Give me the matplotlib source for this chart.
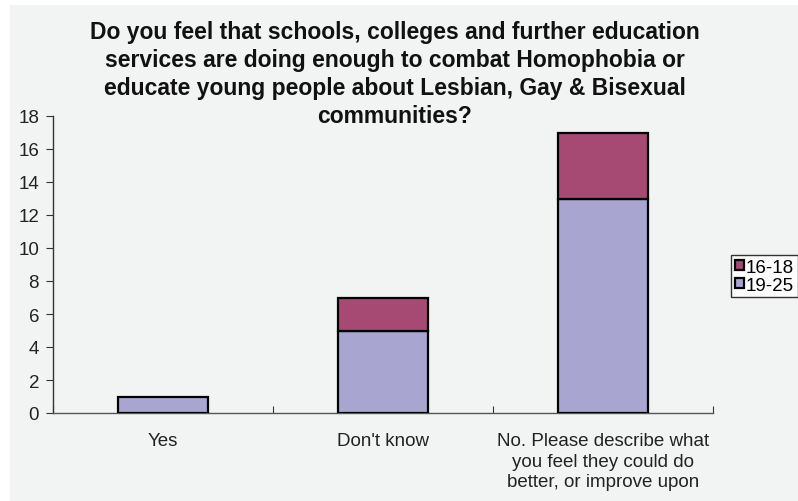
import matplotlib
matplotlib.use("Agg")
import matplotlib.pyplot as plt
from matplotlib.patches import Rectangle

categories = ["Yes", "Don't know",
              "No. Please describe what\nyou feel they could do\nbetter, or improve upon"]
age_19_25 = [1, 5, 13]
age_16_18 = [0, 2, 4]
series_labels = ["16-18", "19-25"]
y_ticks = [0, 2, 4, 6, 8, 10, 12, 14, 16, 18]
title = ("Do you feel that schools, colleges and further education\n"
         "services are doing enough to combat Homophobia or\n"
         "educate young people about Lesbian, Gay & Bisexual\n"
         "communities?")

plt.rcParams["font.family"] = ["Liberation Sans", "DejaVu Sans"]

W, H = 798, 502
bg = "#f2f4f3"
col_16_18 = "#a64a73"
col_19_25 = "#a8a5d0"

fig = plt.figure(figsize=(W / 100, H / 100), dpi=100, facecolor="white")
fig.patches.append(Rectangle((10 / W, 0), 1 - 10 / W, 1 - 6 / H,
                             transform=fig.transFigure, facecolor=bg,
                             edgecolor="none", zorder=-10))

left, right, top, bottom = 53, 713, 117, 414
ax = fig.add_axes([left / W, 1 - bottom / H, (right - left) / W, (bottom - top) / H])
ax.set_facecolor(bg)
ax.patch.set_alpha(0)

x = list(range(len(categories)))
bw = 0.405
ax.bar(x, age_19_25, width=bw, color=col_19_25, edgecolor="black",
       linewidth=1.6, label="19-25", zorder=3)
ax.bar([xi for xi, v in zip(x, age_16_18) if v > 0],
       [v for v in age_16_18 if v > 0], width=bw,
       bottom=[b for b, v in zip(age_19_25, age_16_18) if v > 0],
       color=col_16_18, edgecolor="black", linewidth=1.6, label="16-18", zorder=3)

ax.set_xlim(-0.5, len(categories) - 0.5)
ax.set_ylim(0, 18)
ax.set_yticks(y_ticks)
ax.set_yticklabels([str(t) for t in y_ticks], fontsize=13.5, color="#222222")
ax.set_xticks([i + 0.5 for i in range(-1, len(categories))], minor=False)
ax.set_xticklabels([])
ax.set_xticks(x, minor=True)
ax.set_xticklabels(categories, minor=True, fontsize=13.5, color="#222222",
                   linespacing=1.27)
ax.tick_params(axis="x", which="minor", length=0, pad=14)
ax.tick_params(axis="x", which="major", length=5, direction="in", color="#333333")
ax.tick_params(axis="y", length=5, direction="out", color="#333333", pad=5)

for s in ["top", "right"]:
    ax.spines[s].set_visible(False)
ax.spines["left"].set_color("#333333")
ax.spines["bottom"].set_color("#555555")
ax.spines["left"].set_linewidth(1.0)
ax.spines["bottom"].set_linewidth(1.0)

fig.text((90 + 700) / 2 / W, 1 - 21 / H, title, ha="center", va="top",
         fontsize=16.5, fontweight="bold", color="#111111", linespacing=1.28)

handles, labels = ax.get_legend_handles_labels()
order = [labels.index(s) for s in series_labels]
leg = fig.legend([handles[i] for i in order], [labels[i] for i in order],
                 loc="upper left", bbox_to_anchor=(731 / W, 1 - 256 / H),
                 frameon=True, fancybox=False, fontsize=13.5,
                 handlelength=0.5, handleheight=0.5, handletextpad=0.1,
                 borderpad=0.2, labelspacing=0.05, borderaxespad=0)
leg.get_frame().set_edgecolor("black")
leg.get_frame().set_facecolor("white")
leg.get_frame().set_linewidth(1.0)

fig.savefig("out.png", dpi=100, facecolor="white")
